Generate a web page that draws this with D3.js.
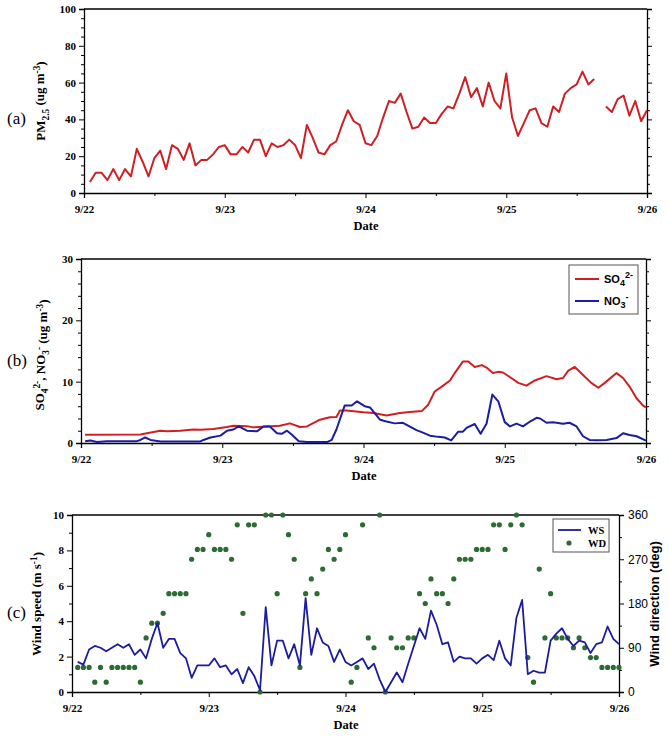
<!DOCTYPE html>
<html><head><meta charset="utf-8">
<script src="https://cdn.jsdelivr.net/npm/d3@7"></script>
<style>body{margin:0;background:#fff}svg{display:block}</style>
</head><body><svg id="chart" width="669" height="736"></svg>
<script>
// ---- data (hours since 9/22 00:00) ----
const dayLabels = ["9/22","9/23","9/24","9/25","9/26"];
const dayHours = [0,24,48,72,96];
const halfDayHours = [12,36,60,84];

// PM2.5 hourly, hour 1..96 (null = missing)
const pm25 = [6,11,11,7,13,7,13,9,24,17, 9,19,23,13,26,24,18,27,15,18,
  18,21,25,26,21,21,25,22,29,29, 20,27,25,26,29,26,19,37,30,22,
  21,26,28,37,45,39,37,27,26,31, 41,50,49,54,44,35,36,41,38,38,
  43,47,46,54,63,52,57,47,60,50, 46,65,41,31,38,45,46,38,36,47,
  44,54,57,59,66,59,62,null,47,44, 51,53,42,50,39,45];

// SO4 2- (hour, value)
const so4Hours = [0.7,10.1,11.2,13.5,14.6,16.9,19.1,20.3,22.5,24.8,25.9,28.2,29.3,31.6,33.8,35.5,37.2,38.4,40.6,42.3,43.4,44.0,45.1,48.0,49.7,51.9,54.2,55.9,57.9,59.0,60.1,61.3,62.7,63.5,64.9,65.8,66.9,68.1,68.9,70.0,70.9,71.7,73.1,74.3,75.7,77.1,79.1,80.8,81.9,82.8,83.9,85.3,86.7,87.9,89.0,91.0,92.1,93.2,94.4,95.5,96.0];
const so4Values = [1.36,1.4,1.6,2.0,1.9,2.0,2.2,2.15,2.3,2.6,2.8,2.75,2.55,2.7,2.8,3.2,2.6,2.7,3.8,4.2,4.25,5.3,5.3,5.0,4.9,4.5,4.9,5.05,5.2,6.25,8.4,9.2,10.2,11.4,13.3,13.3,12.4,12.7,12.3,11.4,11.6,11.5,10.6,9.8,9.35,10.2,10.9,10.4,10.6,11.8,12.4,11.1,9.8,9.0,9.8,11.4,10.6,9.2,7.3,6.1,5.8];

// NO3 - (hour, value)
const no3Hours = [0.7,1.6,2.7,4.4,9.5,10.1,10.9,11.8,13.5,20.3,20.8,22.0,23.7,24.8,25.9,26.8,28.2,29.9,31.0,32.1,33.3,34.1,35.0,35.8,37.0,38.4,41.8,42.6,43.4,44.8,46.0,46.9,48.2,49.1,50.8,51.9,53.3,54.7,57.0,58.1,59.3,60.7,61.8,62.9,64.1,64.9,65.5,66.9,67.9,68.9,69.9,70.9,72.0,72.9,74.0,75.1,76.3,77.4,78.0,79.1,80.2,81.9,83.0,84.2,85.3,86.4,87.6,89.3,91.0,92.1,93.2,94.4,96.0];
const no3Values = [0.3,0.4,0.15,0.3,0.3,0.5,0.9,0.5,0.25,0.25,0.5,0.9,1.2,2.0,2.2,2.7,2.0,1.9,2.7,2.7,1.6,1.5,2.0,1.4,0.3,0.15,0.15,0.5,2.2,6.1,6.1,6.8,6.0,5.8,3.8,3.5,3.2,3.3,2.1,1.7,1.2,1.0,0.9,0.43,1.85,1.85,2.45,3.1,1.5,3.15,7.9,6.8,3.4,2.7,3.15,2.7,3.5,4.1,4.0,3.3,3.4,3.15,3.3,2.7,1.1,0.5,0.45,0.5,0.8,1.6,1.3,1.1,0.4];

// Wind speed (m/s) hourly, hour 1..96
const ws = [1.7,1.55,2.4,2.6,2.5,2.3,2.5,2.7,2.5,2.7, 2.1,2.4,1.9,3.0,3.9,2.5,3.0,3.0,2.2,1.9,
  0.8,1.5,1.5,1.5,1.9,1.4,1.5,1.0,1.3,0.5, 1.4,0.9,0.1,4.8,1.5,2.9,2.9,1.9,2.7,1.5,
  5.3,2.1,3.6,2.8,2.6,1.7,2.4,1.7,1.5,1.7, 1.9,1.3,1.6,0.7,0.0,0.55,1.1,0.55,1.6,2.6,
  3.6,3.0,4.6,3.8,2.7,2.8,1.7,2.0,1.9,1.9, 1.6,1.9,2.1,1.8,2.9,1.9,1.5,4.2,5.2,1.0,
  1.2,1.1,1.1,2.9,3.3,3.6,3.0,2.6,2.9,2.8, 2.2,2.7,2.8,3.7,3.0,2.7];
// Wind direction (deg) hourly, hour 1..96
const wd = [50,50,50,20,50,20,50,50,50,50, 50,20,110,140,140,160,200,200,200,200,
  270,290,290,320,290,290,290,270,340,160, 340,340,0,360,360,200,360,320,270,50,
  200,230,200,250,290,270,290,320,20,50, 340,110,90,360,0,110,90,90,110,110,
  200,180,230,200,200,180,230,270,270,270, 290,290,290,340,340,290,340,360,340,70,
  20,250,110,200,110,110,110,90,110,90, 70,70,50,50,50,50];

const pmTicks = [0,20,40,60,80,100];
const ionTicks = [0,10,20,30];
const wsTicks = [0,2,4,6,8,10];
const wdTicks = [0,90,180,270,360];

// ---- drawing ----
const RED = "#cf1f24", BLUE = "#1c1c9e", GREEN = "#2c6b34";
const SERIF = "'Liberation Serif','Times New Roman',serif";
const SANS = "'Liberation Sans',Arial,sans-serif";
const svg = d3.select("#chart");

function panel(o) {
  const g = svg.append("g");
  const x = d3.scaleLinear().domain([0,96]).range([o.x0,o.x1]);
  const y = d3.scaleLinear().domain(o.yDomain).range([o.y1,o.y0]);
  // frame top
  g.append("line").attr("x1",o.x0).attr("x2",o.x1).attr("y1",o.y0).attr("y2",o.y0)
    .attr("stroke","#000").attr("stroke-width",1.3);
  // bottom axis
  const bx = g.append("g").attr("transform",`translate(0,${o.y1})`)
    .call(d3.axisBottom(x).tickValues(dayHours).tickFormat((d,i)=>dayLabels[i]).tickSize(5).tickPadding(7));
  g.append("g").attr("transform",`translate(0,${o.y1})`)
    .call(d3.axisBottom(x).tickValues(halfDayHours).tickFormat("").tickSize(3)).select(".domain").remove();
  // left axis
  const ly = g.append("g").attr("transform",`translate(${o.x0},0)`)
    .call(d3.axisLeft(y).tickValues(o.ticks).tickSize(5).tickPadding(3));
  g.append("g").attr("transform",`translate(${o.x0},0)`)
    .call(d3.axisLeft(y).tickValues(o.minor).tickFormat("").tickSize(3)).select(".domain").remove();
  // right axis
  let ry;
  if (o.y2) {
    const y2 = d3.scaleLinear().domain(o.y2Domain).range([o.y1,o.y0]);
    ry = g.append("g").attr("transform",`translate(${o.x1},0)`)
      .call(d3.axisRight(y2).tickValues(o.y2Ticks).tickSize(5).tickPadding(4));
    g.append("g").attr("transform",`translate(${o.x1},0)`)
      .call(d3.axisRight(y2).tickValues(o.y2Minor).tickFormat("").tickSize(3)).select(".domain").remove();
    ry.selectAll("text").attr("font-family",SANS).attr("font-size",12);
  } else {
    ry = g.append("g").attr("transform",`translate(${o.x1},0)`)
      .call(d3.axisRight(y).tickValues(o.ticks).tickFormat("").tickSize(5));
    g.append("g").attr("transform",`translate(${o.x1},0)`)
      .call(d3.axisRight(y).tickValues(o.minor).tickFormat("").tickSize(3)).select(".domain").remove();
  }
  g.selectAll(".domain").attr("stroke","#000").attr("stroke-width",1.3);
  g.selectAll(".tick line").attr("stroke","#000");
  bx.selectAll("text").attr("font-family",SERIF).attr("font-weight","bold").attr("font-size",11);
  ly.selectAll("text").attr("font-family",SERIF).attr("font-weight","bold").attr("font-size",11);
  // Date label
  g.append("text").attr("x",o.dateX).attr("y",o.y1+37).attr("text-anchor","middle")
    .attr("font-family",SERIF).attr("font-weight","bold").attr("font-size",12.5).text("Date");
  // panel letter
  g.append("text").attr("x",7).attr("y",o.letterY).attr("font-family",SERIF)
    .attr("font-size",17).text(o.letter);
  return {g,x,y};
}

function ylabel(g, cx, cy, parts, font, weight, size) {
  const t = g.append("text").attr("transform",`translate(${cx},${cy}) rotate(-90)`)
    .attr("text-anchor","middle").attr("font-family",font).attr("font-weight",weight)
    .attr("font-size",size);
  let cur = 0;
  parts.forEach(p => {
    const lvl = p[1] || 0; // 0 normal, -1 sub, 1 sup
    const dy = (-lvl*0.4 - cur*(-0.4)*-1);
    const ts = t.append("tspan").text(p[0]);
    const shift = (cur - lvl) * 0.4;
    ts.attr("dy", shift + "em");
    if (lvl !== 0) ts.attr("font-size", size*0.72);
    cur = lvl;
  });
  return t;
}

// Panel (a)
const A = panel({x0:84,x1:647,y0:9,y1:193,yDomain:[0,100],ticks:pmTicks,
  minor:[5,10,15,25,30,35,45,50,55,65,70,75,85,90,95],dateX:366,letter:"(a)",letterY:124});
A.g.append("path")
  .datum(pm25.map((v,i)=>({h:i+1,v})))
  .attr("fill","none").attr("stroke",RED).attr("stroke-width",2).attr("stroke-linejoin","round")
  .attr("d", d3.line().defined(d=>d.v!==null).x(d=>A.x(d.h)).y(d=>A.y(d.v)));
ylabel(A.g, 45, 101, [["PM"],["2.5",-1],[" (ug m"],["-3",1],[")"]], SERIF, "bold", 13);

// Panel (b)
const B = panel({x0:81,x1:646,y0:259,y1:443,yDomain:[0,30],ticks:ionTicks,
  minor:[2,4,6,8,12,14,16,18,22,24,26,28],dateX:364,letter:"(b)",letterY:366});
const lineB = d3.line().x(d=>B.x(d[0])).y(d=>B.y(d[1]));
B.g.append("path").datum(so4Hours.map((h,i)=>[h,so4Values[i]]))
  .attr("fill","none").attr("stroke",RED).attr("stroke-width",2).attr("stroke-linejoin","round").attr("d",lineB);
B.g.append("path").datum(no3Hours.map((h,i)=>[h,no3Values[i]]))
  .attr("fill","none").attr("stroke",BLUE).attr("stroke-width",2).attr("stroke-linejoin","round").attr("d",lineB);
ylabel(B.g, 44, 355, [["SO"],["4",-1],["2-",1],[", NO"],["3",-1],["-",1],[" (ug m"],["-3",1],[")"]], SERIF, "bold", 13);
// legend (b)
const lb = B.g.append("g");
lb.append("rect").attr("x",569).attr("y",265).attr("width",69).attr("height",49)
  .attr("fill","#fff").attr("stroke","#555").attr("stroke-width",1);
[["SO","4","2-",RED,279],["NO","3","-",BLUE,301]].forEach(r=>{
  lb.append("line").attr("x1",575).attr("x2",599).attr("y1",r[4]).attr("y2",r[4])
    .attr("stroke",r[3]).attr("stroke-width",2);
  const t = lb.append("text").attr("x",604).attr("y",r[4]+4).attr("font-family",SANS)
    .attr("font-size",11).attr("font-weight","bold");
  t.append("tspan").text(r[0]);
  t.append("tspan").text(r[1]).attr("dy","0.3em").attr("font-size",9);
  t.append("tspan").text(r[2]).attr("dy","-0.9em").attr("font-size",9);
});

// Panel (c)
const C = panel({x0:72,x1:619,y0:515,y1:692,yDomain:[0,10],ticks:wsTicks,
  minor:[1,3,5,7,9],dateX:346,letter:"(c)",letterY:618,
  y2:true,y2Domain:[0,360],y2Ticks:wdTicks,y2Minor:[45,135,225,315]});
const yWD = d3.scaleLinear().domain([0,360]).range([692,515]);
C.g.append("g").selectAll("circle").data(wd.map((v,i)=>({h:i+1,v})))
  .join("circle").attr("cx",d=>C.x(d.h)).attr("cy",d=>yWD(d.v)).attr("r",2.6).attr("fill",GREEN);
C.g.append("path").datum(ws.map((v,i)=>({h:i+1,v})))
  .attr("fill","none").attr("stroke",BLUE).attr("stroke-width",1.8).attr("stroke-linejoin","round")
  .attr("d", d3.line().x(d=>C.x(d.h)).y(d=>C.y(d.v)));
ylabel(C.g, 41, 604, [["Wind speed (m s"],["-1",1],[")"]], SERIF, "bold", 13);
ylabel(C.g, 659, 604, [["Wind direction (deg)"]], SANS, "bold", 13);
// legend (c)
const lc = C.g.append("g");
lc.append("rect").attr("x",553).attr("y",519).attr("width",56).attr("height",33)
  .attr("fill","#fff").attr("stroke","#555").attr("stroke-width",1);
lc.append("line").attr("x1",558).attr("x2",581).attr("y1",530).attr("y2",530)
  .attr("stroke",BLUE).attr("stroke-width",1.8);
lc.append("circle").attr("cx",569).attr("cy",543).attr("r",2.6).attr("fill",GREEN);
[["WS",534],["WD",547]].forEach(r=>{
  lc.append("text").attr("x",588).attr("y",r[1]).attr("font-family",SERIF).attr("font-weight","bold")
    .attr("font-size",10.5).text(r[0]);
});
</script></body></html>
